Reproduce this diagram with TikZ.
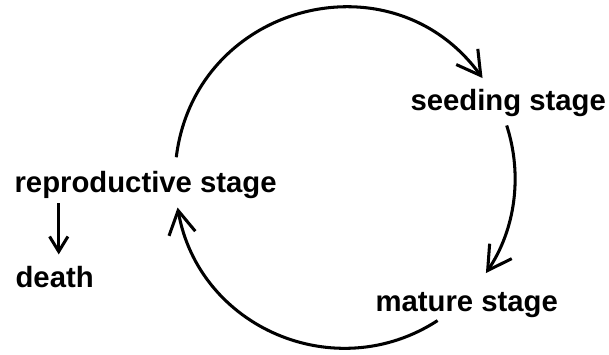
\documentclass[tikz,border=0pt]{standalone}
\usepackage{fontspec}
\setmainfont{Liberation Sans}
\usetikzlibrary{arrows.meta,calc}

\begin{document}
\begin{tikzpicture}[
  x=0.03cm, y=0.03cm,
  stage/.style={anchor=base west, inner sep=2pt, font=\fontsize{25}{30}\selectfont\bfseries},
  flow/.style={-{Straight Barb[length=7mm, width=8mm]}, line width=2.6pt},
  fall/.style={-{Straight Barb[length=4.5mm, width=5.5mm]}, line width=2.6pt}
]
\useasboundingbox (0,0) rectangle (609,354);

\node[stage] (repro)  at (12,162)  {reproductive stage};
\node[stage] (death)  at (13,67)   {death};
\node[stage] (seed)   at (408,244) {seeding stage};
\node[stage] (mature) at (373,43)  {mature stage};

% the life cycle runs round one circle
\coordinate (hub) at (345,176);
\coordinate (t1) at ($(hub)+(173:170)$);
\coordinate (t2) at ($(hub)+(36:170)$);
\coordinate (r1) at ($(hub)+(18:170)$);
\coordinate (r2) at ($(hub)+(-34:170)$);
\coordinate (b1) at ($(hub)+(-57:170)$);
\coordinate (b2) at ($(hub)+(190:170)$);

\draw[flow] (t1) to[out=83, in=126, looseness=1.25] (t2);
\draw[flow] (r1) to[out=-72, in=56, looseness=0.9] (r2);
\draw[flow] (b1) to[out=-147, in=-80, looseness=1.1] (b2);

\draw[fall, shorten <=2pt, shorten >=7.5pt]
  ([xshift=3.5pt]repro.south -| death.north) -- ([xshift=3.5pt]death.north);
\end{tikzpicture}
\end{document}
